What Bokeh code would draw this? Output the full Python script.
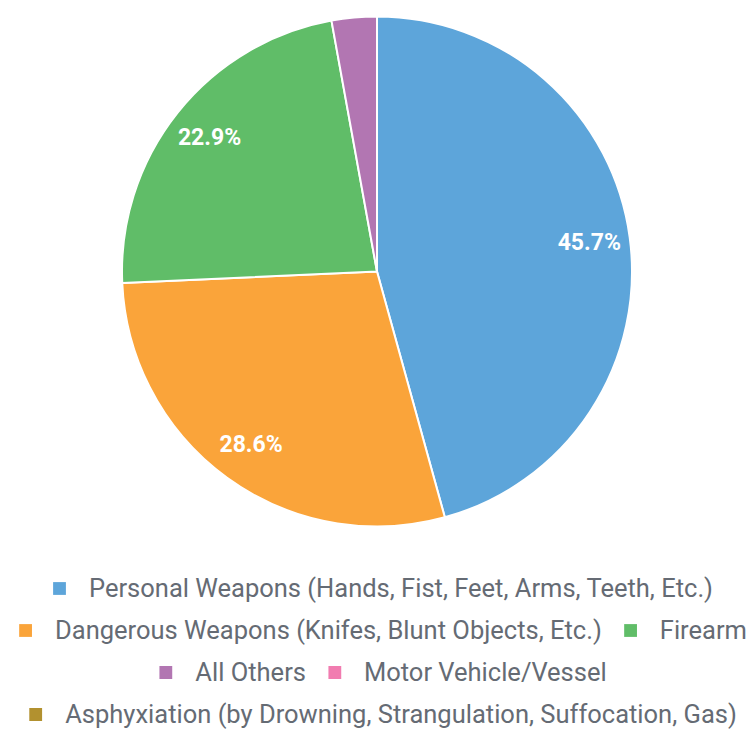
import math
from bokeh.plotting import figure
from bokeh.models import ColumnDataSource, Range1d, Legend, LegendItem
from bokeh.core.properties import value
from bokeh.embed import file_html
from bokeh.resources import INLINE

categories = [
    "Personal Weapons (Hands, Fist, Feet, Arms, Teeth, Etc.)",
    "Dangerous Weapons (Knifes, Blunt Objects, Etc.)",
    "Firearm",
    "All Others",
    "Motor Vehicle/Vessel",
    "Asphyxiation (by Drowning, Strangulation, Suffocation, Gas)",
]
counts = [16, 10, 8, 1, 0, 0]
colors = ["#5DA5DA", "#FAA43A", "#60BD68", "#B276B2", "#F17CB0", "#B2912F"]
legend_rows = [[0], [1, 2], [3, 4], [5]]

total = float(sum(counts))
starts, ends, pcts = [], [], []
cum = 0.0
for c in counts:
    starts.append(math.pi / 2 - 2 * math.pi * cum / total)
    cum += c
    ends.append(math.pi / 2 - 2 * math.pi * cum / total)
    pcts.append(100.0 * c / total)

LEFT_PAD = 14
W, H = 750, 730
PAGE_H = 732
cx, cy, R = 376.5, PAGE_H - 271, 255

nz = [i for i, c in enumerate(counts) if c > 0]
src = ColumnDataSource(dict(cat=[categories[i] for i in nz],
                            start=[starts[i] for i in nz],
                            end=[ends[i] for i in nz],
                            color=[colors[i] for i in nz]))

p = figure(width=W, height=H, output_backend="svg",
           toolbar_location=None, min_border=0, min_border_left=LEFT_PAD,
           x_range=Range1d(LEFT_PAD, W),
           y_range=Range1d(PAGE_H - H, PAGE_H))
p.axis.visible = False
p.grid.visible = False
p.outline_line_color = None
p.background_fill_color = "white"
p.border_fill_color = "white"

p.wedge(x=cx, y=cy, radius=R, start_angle="start", end_angle="end",
        direction="clock", fill_color="color", line_color="white", line_width=2,
        source=src)

lx, ly, lt = [], [], []
for s, e, pc in zip(starts, ends, pcts):
    if pc >= 5:
        m = (s + e) / 2
        lx.append(cx + 0.84 * R * math.cos(m))
        ly.append(cy + 0.84 * R * math.sin(m))
        lt.append("%.1f%%" % pc)
p.text(x=lx, y=ly, text=lt, text_align="center", text_baseline="middle",
       text_color="white", text_font=value("Roboto"), text_font_style="bold",
       text_font_size="23px")

# invisible (zero-size) renderers that only carry the legend swatch colours
swatches = []
for col in colors:
    swatches.append(p.quad(left=[cx], right=[cx], top=[cy], bottom=[cy],
                           fill_color=col, line_color=None))

ROW_H = 32
ROW_STEP = 42
last_center = 714  # screen px of the last legend row
n_rows = len(legend_rows)
for k, row in enumerate(legend_rows):
    center = last_center - (n_rows - 1 - k) * ROW_STEP
    margin = H - (center + ROW_H // 2)
    items = [LegendItem(label=categories[i], renderers=[swatches[i]]) for i in row]
    lg = Legend(items=items, orientation="horizontal", location="bottom_center",
                label_text_font="Roboto", label_text_font_size="25.5px",
                label_text_color="#656b74", label_standoff=22,
                glyph_width=16, glyph_height=16, label_height=ROW_H,
                spacing=20, padding=0, margin=margin, border_line_color=None,
                background_fill_alpha=0)
    p.add_layout(lg, "center")

open("out.html", "w").write(file_html(p, INLINE))
